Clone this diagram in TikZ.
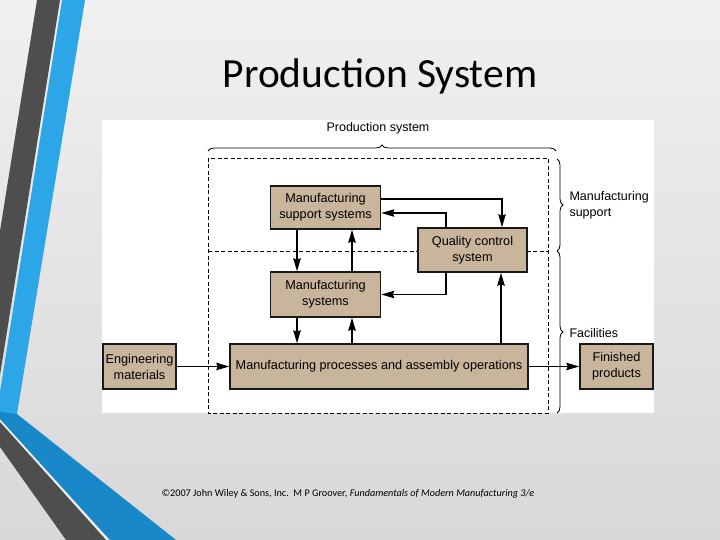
\documentclass[tikz,border=0pt]{standalone}
\usepackage{fontspec}
\setmainfont{Liberation Sans}
\newfontfamily\slidefont{Carlito}
\usetikzlibrary{calc,arrows.meta,decorations.pathreplacing}
\definecolor{boxtan}{RGB}{201,181,156}
\definecolor{stripedark}{RGB}{78,78,78}
\definecolor{stripeblue}{RGB}{44,166,230}
\definecolor{stripedeep}{RGB}{24,136,201}
\definecolor{bgtop}{RGB}{240,240,240}
\definecolor{bgbot}{RGB}{216,216,216}

\begin{document}
\begin{tikzpicture}[x=1pt,y=-1pt,
    unit/.style={draw=black!90, fill=boxtan, line width=1.6pt, align=center,
      inner sep=0pt, font=\fontsize{12.7}{16}\selectfont},
    flow/.style={line width=1.1pt, -{Stealth[length=13pt,width=7.5pt,inset=1.5pt]}},
    area/.style={dashed, dash pattern=on 4pt off 2.5pt, line width=0.9pt},
    brc/.style={decorate, decoration={brace, amplitude=6pt}, line width=0.8pt}]
    \useasboundingbox (0,0) rectangle (720,540);
    \shade[top color=bgtop, bottom color=bgbot] (0,0) rectangle (720,540);
    \fill[stripedark] (37,0) -- (60,0) -- (0,375) -- (0,231) -- cycle;
    \fill[stripeblue] (62,0) -- (85,0) -- (17,414) -- (0,414) -- (0,392) -- cycle;
    \fill[stripedeep] (0,412) -- (17,414) -- (176,540) -- (110,540) -- (0,419) -- cycle;
    \fill[stripedark] (0,422) -- (106,540) -- (66,540) -- (0,447) -- cycle;
    \draw[white, line width=0.8pt] (0,420.5) -- (108,540);
    \node[font=\slidefont\fontsize{41.5}{46}\selectfont] (title) at (380,76) {Production System};
    \node[font=\slidefont\fontsize{10.2}{12}\selectfont] (credit) at (348,494)
      {\textcopyright 2007 John Wiley \& Sons, Inc.\ \ M P Groover, \textit{Fundamentals of Modern Manufacturing 3/e}};
    \fill[white] (102,120) rectangle (654,413);
    \draw[area] (208,158) rectangle (548,413);
    \draw[area] (208,251) -- (548,251);
    \draw[brc] (208,151) -- (556,151);
    \draw[brc] (557,159) -- (557,251);
    \draw[brc] (557,251) -- (557,413);
    \node[font=\fontsize{12.5}{14}\selectfont] (prodsys) at (378,128) {Production system};
    \node[anchor=west, align=left, font=\fontsize{12.5}{16}\selectfont] (supp) at (566,205) {Manufacturing\\support};
    \node[anchor=west, font=\fontsize{12.5}{14}\selectfont] (fac) at (566,333) {Facilities};
    \node[unit, minimum width=110pt, minimum height=43pt] (mss) at (325.5,207.5) {Manufacturing\\support systems};
    \node[unit, minimum width=109pt, minimum height=44pt] (qc) at (472.5,250) {Quality control\\system};
    \node[unit, minimum width=110pt, minimum height=45pt] (ms) at (325.5,294.5) {Manufacturing\\systems};
    \node[unit, minimum width=298pt, minimum height=45pt] (mpa) at (379,366.5) {Manufacturing processes and assembly operations};
    \node[unit, minimum width=73pt, minimum height=45pt] (em) at (139.5,366.5) {Engineering\\materials};
    \node[unit, minimum width=73pt, minimum height=45pt] (fp) at (616.5,366.5) {Finished\\products};
    \coordinate (msdown) at ($(ms.south)+(-28.5,0)$);
    \coordinate (msup) at ($(ms.south)+(26.5,0)$);
    \coordinate (qcup) at ($(qc.south)+(28.5,0)$);
    \draw[flow] ($(mss.east)+(0,-8.5)$) -| ($(qc.north)+(29.5,0)$);
    \draw[flow] ($(qc.north)+(-26.5,0)$) |- ($(mss.east)+(0,5.5)$);
    \draw[flow] ($(mss.south)+(-28.5,0)$) -- ($(ms.north)+(-28.5,0)$);
    \draw[flow] ($(ms.north)+(26.5,0)$) -- ($(mss.south)+(26.5,0)$);
    \draw[flow] ($(qc.south)+(-26.5,0)$) |- (ms.east);
    \draw[flow] (msdown) -- (msdown |- mpa.north);
    \draw[flow] (msup |- mpa.north) -- (msup);
    \draw[flow] (qcup |- mpa.north) -- (qcup);
    \draw[flow] (em) -- (mpa);
    \draw[flow] (mpa) -- (fp);
\end{tikzpicture}
\end{document}
